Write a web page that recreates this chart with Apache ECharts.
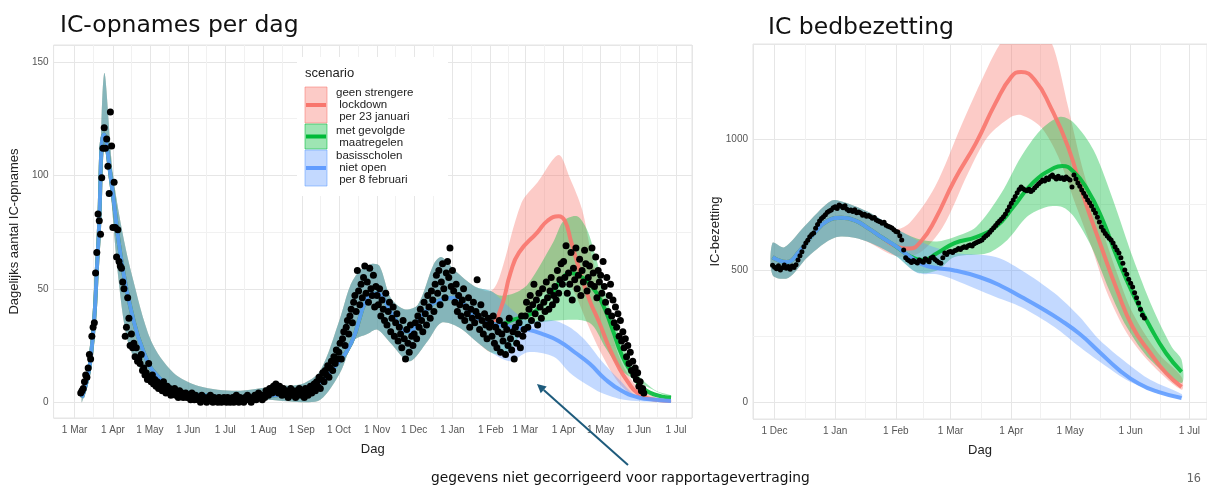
<!DOCTYPE html>
<html>
<head>
<meta charset="utf-8">
<script src="https://cdn.jsdelivr.net/npm/echarts@6/dist/echarts.min.js"></script>
<style>
  html, body { margin: 0; padding: 0; background: #fff; }
  #chart { width: 1207px; height: 488px; }
</style>
</head>
<body>
<div id="chart"></div>
<script>
// ---------- Daily IC admissions (dots), starting 2020-03-06 ----------
const opnamesStart = '2020-03-06';
const opnames2020Mar = [4,5,6,9,12,11,15,21,19,29,33,35,57,66,83,80,74,99,112,121,112,116,104,92,128,113];
const opnames2020Apr = [77,97,77,64,76,62,60,59,53,50,29,33,46,37,25,30,24,26,20,24,18,19,17,21,14,15,12,13,10,17];
const opnames2020May = [11,9,12,8,10,7,9,6,8,7,5,9,6,4,7,5,6,3,5,4,6,3,4,2,5,3,4,2,3,4,2];
const opnames2020Jun = [3,2,1,4,2,1,3,2,1,2,0,3,1,2,1,0,2,1,3,1,0,2,1,1,0,2,1,0,1,2];
const opnames2020Jul = [1,0,2,1,0,1,2,0,1,3,1,0,2,1,1,0,2,1,3,1,2,0,1,2,3,1,2,4,2,3,1];
const opnames2020Aug = [3,2,5,4,3,6,5,4,7,5,8,6,4,7,5,3,6,4,5,3,2,4,6,3,5,4,2,5,3,6,4];
const opnames2020Sep = [3,5,2,6,4,3,5,7,4,6,8,5,9,7,11,6,10,13,9,14,12,16,11,15,18,14,20,17,23,19];
const opnames2020Oct = [22,26,19,28,31,25,33,36,30,38,41,35,44,47,40,58,49,43,52,46,55,60,48,53,44,59,50,47,56,42,51];
const opnames2020Nov = [47,43,50,38,45,41,36,48,34,40,44,31,37,42,29,35,39,27,33,30,24,36,28,19,32,26,22,34,29,25];
const opnames2020Dec = [30,35,28,38,33,41,36,31,44,39,34,47,42,37,49,45,40,52,56,48,58,43,53,61,50,46,57,62,55,68,51];
const opnames2021Jan = [58,49,44,52,40,47,43,38,45,50,36,42,39,46,33,41,37,44,35,40,54,38,32,43,36,30,39,34,28,37,33];
const opnames2021Feb = [35,29,38,26,33,24,31,36,22,30,27,34,21,32,25,37,28,23,31,19,33,26,30,35,24,38,29,32];
const opnames2021Mar = [38,44,33,41,47,36,43,52,39,45,34,48,42,37,50,44,40,53,46,41,49,55,43,47,51,45,58,48,54,61,52];
const opnames2021Apr = [62,55,69,48,57,52,66,45,59,54,68,50,56,63,47,58,53,67,61,49,55,60,52,68,57,51,64,46,58,53];
const opnames2021May = [56,48,62,51,44,55,40,47,52,38,45,35,42,33,39,29,36,27,31,24,28,20,25,17,22,14,18,12,15,10,13];
const opnames2021Jun = [7,9,5,6,4];

// ---------- Model for admissions: shared fit up to Feb 2021 ----------
const opnHistMid = [['2020-03-07',2],['2020-03-14',19],['2020-03-20',68],['2020-03-25',118],['2020-03-31',96],['2020-04-08',62],['2020-04-16',40],['2020-04-26',22],['2020-05-08',11],['2020-05-25',5],['2020-06-15',3],['2020-07-15',2],['2020-08-10',3],['2020-09-01',5],['2020-09-16',9],['2020-09-27',15],['2020-10-11',26],['2020-10-24',46],['2020-11-01',48],['2020-11-12',40],['2020-11-26',31],['2020-12-10',40],['2020-12-22',45],['2021-01-03',46],['2021-01-18',38],['2021-02-01',35]];
const opnHistHigh = [['2020-03-07',4],['2020-03-14',22],['2020-03-20',74],['2020-03-25',145],['2020-04-01',101],['2020-04-08',77],['2020-04-16',57],['2020-05-02',27],['2020-05-20',13],['2020-06-10',7],['2020-07-10',5],['2020-08-10',7],['2020-09-01',8],['2020-09-16',14],['2020-10-02',37],['2020-10-10',51],['2020-10-18',58],['2020-10-28',61],['2020-11-03',60],['2020-11-12',46],['2020-11-23',41],['2020-12-04',43],['2020-12-17',61],['2020-12-23',64],['2021-01-03',58],['2021-01-19',51],['2021-02-01',49]];
const opnHistLow = [['2020-03-07',0],['2020-03-14',16],['2020-03-20',62],['2020-03-25',112],['2020-03-29',100],['2020-04-05',57],['2020-04-13',27],['2020-04-25',13],['2020-05-08',5],['2020-06-01',1],['2020-07-01',0],['2020-08-01',1],['2020-09-01',0],['2020-09-16',1],['2020-10-02',13],['2020-10-13',27],['2020-10-24',30],['2020-11-01',32],['2020-11-12',26],['2020-11-27',18],['2020-12-12',27],['2020-12-23',35],['2021-01-06',33],['2021-01-22',26],['2021-02-01',22]];

// Scenario: geen strengere lockdown per 23 januari
const opnRedMid = [['2021-02-09',41],['2021-02-17',57],['2021-02-24',66],['2021-03-11',75],['2021-03-19',80],['2021-03-28',82],['2021-04-02',80],['2021-04-07',71],['2021-04-14',58],['2021-04-22',45],['2021-04-30',35],['2021-05-08',24],['2021-05-16',15],['2021-05-23',9],['2021-05-31',4],['2021-06-15',1],['2021-06-27',0.5]];
const opnRedHigh = [['2021-02-08',55],['2021-02-26',88],['2021-03-11',97],['2021-03-28',109],['2021-04-06',99],['2021-04-16',85],['2021-04-24',64],['2021-05-05',42],['2021-05-16',20],['2021-05-30',7],['2021-06-15',2],['2021-06-27',1]];
const opnRedLow = [['2021-02-08',24],['2021-02-20',32],['2021-03-05',42],['2021-03-20',50],['2021-04-01',55],['2021-04-10',48],['2021-04-20',35],['2021-05-01',22],['2021-05-15',9],['2021-05-30',2],['2021-06-27',0]];
// Scenario: met gevolgde maatregelen
const opnGreenMid = [['2021-02-08',34],['2021-02-17',36],['2021-03-06',39],['2021-03-16',44],['2021-03-24',49],['2021-03-30',54],['2021-04-07',57],['2021-04-16',55],['2021-04-24',51],['2021-05-02',44],['2021-05-10',33],['2021-05-18',21],['2021-05-26',13],['2021-06-07',5],['2021-06-27',2]];
const opnGreenHigh = [['2021-02-08',47],['2021-02-20',48],['2021-03-03',52],['2021-03-24',71],['2021-04-01',80],['2021-04-12',82],['2021-04-20',76],['2021-04-27',64],['2021-05-08',42],['2021-05-18',27],['2021-05-30',13],['2021-06-15',5],['2021-06-27',3]];
const opnGreenLow = [['2021-02-10',21],['2021-02-20',25],['2021-02-28',33],['2021-03-27',36],['2021-04-22',35],['2021-05-05',24],['2021-05-18',14],['2021-06-07',7],['2021-06-27',2]];
// Scenario: basisscholen niet open per 8 februari
const opnBlueMid = [['2021-02-08',34],['2021-02-20',33],['2021-03-03',32],['2021-03-15',30],['2021-03-28',27],['2021-04-10',22],['2021-04-22',17],['2021-05-05',10],['2021-05-18',5],['2021-06-01',2],['2021-06-15',1],['2021-06-27',0.5]];
const opnBlueHigh = [['2021-02-08',46],['2021-02-20',40],['2021-03-03',36],['2021-03-24',36],['2021-04-06',33],['2021-04-19',27],['2021-05-02',18],['2021-05-16',10],['2021-06-01',2],['2021-06-27',0.5]];
const opnBlueLow = [['2021-02-17',18],['2021-03-03',22],['2021-03-24',20],['2021-04-06',13],['2021-04-19',8],['2021-05-02',4],['2021-05-20',1],['2021-06-15',0],['2021-06-27',0]];

// ---------- Daily IC bed occupancy (dots), starting 2020-11-30 ----------
const bezettingStart = '2020-11-30';
const bezetting2020Nov = [520];
const bezetting2020Dec = [512,506,518,502,510,521,508,515,504,517,511,522,540,556,571,590,604,615,628,637,642,660,675,688,697,704,712,721,726,730,738];
const bezetting2021Jan = [742,735,749,744,738,746,733,727,730,724,731,719,722,718,710,714,706,709,704,698,701,692,688,685,679,683,672,668,665,661,655];
const bezetting2021Feb = [648,646,632,616,578,548,541,536,530,538,533,528,540,535,531,544,539,533,547,551,542,536,530,527,548,566,561,570];
const bezetting2021Mar = [572,568,575,578,583,580,586,590,587,594,597,593,601,605,609,612,616,624,631,637,645,654,662,671,680,688,696,704,715,728,742];
const bezetting2021Apr = [755,768,781,795,808,817,811,806,803,809,800,806,814,822,830,836,844,840,851,846,857,863,854,848,858,850,852,846,855,849];
const bezetting2021May = [844,817,863,848,832,820,806,793,781,768,757,745,731,718,702,684,665,652,640,631,622,616,604,590,578,566,548,527,502,485,466];
const bezetting2021Jun = [451,437,415,396,376,352,330,319];

// ---------- Model for occupancy ----------
const bedHistMid = [['2020-11-30',550],['2020-12-07',532],['2020-12-14',575],['2020-12-21',640],['2020-12-28',688],['2021-01-04',700],['2021-01-11',690],['2021-01-18',660],['2021-01-25',625],['2021-02-01',592]];
const bedHistHigh = [['2020-11-30',605],['2020-12-06',588],['2020-12-16',665],['2020-12-30',765],['2021-01-06',758],['2021-01-19',718],['2021-02-01',658]];
const bedHistLow = [['2020-11-30',483],['2020-12-08',471],['2020-12-18',551],['2021-01-01',625],['2021-01-15',616],['2021-02-01',555]];

const bedRedMid = [['2021-02-08',583],['2021-02-14',612],['2021-02-21',692],['2021-03-03',844],['2021-03-14',985],['2021-03-24',1137],['2021-04-01',1236],['2021-04-06',1255],['2021-04-13',1224],['2021-04-21',1122],['2021-04-30',970],['2021-05-08',779],['2021-05-17',589],['2021-05-25',426],['2021-06-02',285],['2021-06-11',186],['2021-06-19',110],['2021-06-27',57]];
const bedRedHigh = [['2021-02-08',680],['2021-02-21',818],['2021-03-07',1061],['2021-03-20',1274],['2021-03-27',1370],['2021-04-07',1470],['2021-04-17',1420],['2021-04-23',1338],['2021-04-30',1122],['2021-05-08',871],['2021-05-17',665],['2021-05-25',490],['2021-06-02',338],['2021-06-15',186],['2021-06-27',95]];
const bedRedLow = [['2021-02-13',566],['2021-02-25',665],['2021-03-10',871],['2021-03-20',1008],['2021-04-01',1084],['2021-04-06',1091],['2021-04-16',1046],['2021-04-25',932],['2021-05-03',768],['2021-05-12',589],['2021-05-20',414],['2021-05-30',262],['2021-06-11',148],['2021-06-27',46]];

const bedGreenMid = [['2021-02-08',555],['2021-02-15',540],['2021-02-22',565],['2021-03-03',604],['2021-03-14',627],['2021-03-24',665],['2021-04-02',741],['2021-04-12',833],['2021-04-23',890],['2021-04-27',897],['2021-05-03',874],['2021-05-10',806],['2021-05-17',704],['2021-05-25',551],['2021-06-02',414],['2021-06-11',285],['2021-06-19',186],['2021-06-27',114]];
const bedGreenHigh = [['2021-02-12',620],['2021-02-22',610],['2021-03-03',627],['2021-03-14',665],['2021-03-27',795],['2021-04-06',932],['2021-04-16',1034],['2021-04-26',1084],['2021-05-03',1061],['2021-05-13',958],['2021-05-23',768],['2021-06-02',551],['2021-06-12',361],['2021-06-22',209],['2021-06-27',160]];
const bedGreenLow = [['2021-02-12',492],['2021-02-22',500],['2021-03-03',551],['2021-03-20',566],['2021-03-30',616],['2021-04-09',704],['2021-04-19',741],['2021-04-27',741],['2021-05-03',704],['2021-05-12',589],['2021-05-21',426],['2021-05-30',285],['2021-06-11',160],['2021-06-27',72]];

const bedBlueMid = [['2021-02-08',553],['2021-02-14',525],['2021-02-21',510],['2021-03-03',500],['2021-03-16',474],['2021-03-27',440],['2021-04-06',400],['2021-04-16',358],['2021-04-26',312],['2021-05-06',258],['2021-05-16',190],['2021-05-26',122],['2021-06-05',70],['2021-06-15',38],['2021-06-27',15]];
const bedBlueHigh = [['2021-02-12',615],['2021-02-22',585],['2021-03-03',566],['2021-03-24',551],['2021-04-06',502],['2021-04-23',414],['2021-05-06',323],['2021-05-16',236],['2021-05-30',148],['2021-06-11',84],['2021-06-27',30]];
const bedBlueLow = [['2021-02-12',490],['2021-02-22',485],['2021-03-03',464],['2021-03-24',399],['2021-04-06',361],['2021-04-23',285],['2021-05-06',209],['2021-05-20',133],['2021-06-02',72],['2021-06-27',15]];

// ---------- Text ----------
const MONTHS = ['Jan','Feb','Mar','Apr','May','Jun','Jul','Aug','Sep','Oct','Nov','Dec'];
const scenarioColors = { red: '#F8766D', green: '#00BA38', blue: '#619CFF' };
const legendLabels = [
  ['geen strengere', ' lockdown', ' per 23 januari'],
  ['met gevolgde', ' maatregelen'],
  ['basisscholen', ' niet open', ' per 8 februari']
];
const leftYTicks = [0, 50, 100, 150];
const rightYTicks = [0, 500, 1000];

// ---------- Helpers ----------
const DAY = 86400000;
const toTime = s => new Date(s + 'T00:00:00').getTime();
const pts = arr => arr.map(([d, v]) => [toTime(d), v]);
function daily(start, values) {
  const t0 = toTime(start);
  return values.map((v, i) => [t0 + i * DAY, v]);
}
function monthStarts(from, to) {
  const out = [];
  const d = new Date(from + 'T00:00:00');
  const end = toTime(to);
  while (d.getTime() <= end) { out.push(d.getTime()); d.setMonth(d.getMonth() + 1); }
  return out;
}
function midpoints(arr) {
  const out = [];
  for (let i = 0; i + 1 < arr.length; i++) out.push((arr[i] + arr[i + 1]) / 2);
  return out;
}
function rgba(hex, a) {
  const n = parseInt(hex.slice(1), 16);
  return `rgba(${(n >> 16) & 255},${(n >> 8) & 255},${n & 255},${a})`;
}

const BAND_ALPHA = 0.38;

function bandSeries(idx, upper, lower, color) {
  const up = pts(upper), lo = pts(lower);
  return {
    type: 'custom', xAxisIndex: idx, yAxisIndex: idx, silent: true, z: 2,
    data: [up[0]],
    renderItem(params, api) {
      const points = up.map(p => api.coord(p)).concat(lo.slice().reverse().map(p => api.coord(p)));
      const cs = params.coordSys;
      return {
        type: 'polygon',
        shape: { points, smooth: 0.3 },
        style: { fill: rgba(color, BAND_ALPHA), stroke: null },
        clipPath: { type: 'rect', shape: { x: cs.x, y: cs.y, width: cs.width, height: cs.height } }
      };
    }
  };
}
function lineSeries(idx, data, color) {
  return {
    type: 'line', xAxisIndex: idx, yAxisIndex: idx, silent: true, z: 2,
    data: pts(data), smooth: 0.5, showSymbol: false, clip: true,
    lineStyle: { color, width: 4, opacity: 0.9 }
  };
}
function scatterSeries(idx, data, size) {
  return {
    type: 'scatter', xAxisIndex: idx, yAxisIndex: idx, silent: true, z: 3,
    data, symbolSize: size, itemStyle: { color: '#000', opacity: 1 }
  };
}
function minorGrid(idx, xs, ys) {
  return {
    type: 'line', xAxisIndex: idx, yAxisIndex: idx, silent: true, z: 1, data: [],
    markLine: {
      silent: true, symbol: ['none', 'none'], animation: false, z: 1,
      label: { show: false },
      lineStyle: { color: '#f1f1f1', width: 1, type: 'solid' },
      emphasis: { disabled: true },
      data: xs.map(x => ({ xAxis: x })).concat(ys.map(y => ({ yAxis: y })))
    }
  };
}

const labelFont = { color: '#555', fontSize: 10, fontFamily: 'Liberation Sans' };
const nameFont = { color: '#222', fontSize: 13, fontFamily: 'Liberation Sans' };

function timeAxis(idx, min, max, splitNumber) {
  return {
    type: 'time', gridIndex: idx, min: toTime(min), max: toTime(max),
    splitNumber, minInterval: 28 * DAY, maxInterval: 31 * DAY,
    name: 'Dag', nameLocation: 'middle', nameGap: 25, nameTextStyle: nameFont,
    axisLine: { show: false }, axisTick: { show: false },
    axisLabel: Object.assign({
      margin: 7, hideOverlap: false,
      formatter: v => { const d = new Date(v); return d.getDate() + ' ' + MONTHS[d.getMonth()]; }
    }, labelFont),
    splitLine: { show: true, lineStyle: { color: '#e6e6e6', width: 1 } }
  };
}
function valueAxis(idx, min, max, splitNumber, name, nameGap, ticks) {
  return {
    type: 'value', gridIndex: idx, min, max, splitNumber,
    name, nameLocation: 'middle', nameGap, nameRotate: 90, nameTextStyle: nameFont,
    axisLine: { show: false }, axisTick: { show: false },
    axisLabel: Object.assign({
      margin: 5,
      formatter: v => (ticks.indexOf(v) >= 0 ? String(v) : '')
    }, labelFont),
    splitLine: { show: true, lineStyle: { color: '#e6e6e6', width: 1 } }
  };
}

// Minor grid positions (midway between major ticks)
const leftMonths = monthStarts('2020-03-01', '2021-07-01');
const rightMonths = monthStarts('2020-12-01', '2021-07-01');
const leftMinorX = midpoints(leftMonths);
const rightMinorX = midpoints(rightMonths);
const leftMinorY = midpoints(leftYTicks);
const rightMinorY = midpoints(rightYTicks);

const opnamesDots = daily(opnamesStart, [].concat(
  opnames2020Mar, opnames2020Apr, opnames2020May, opnames2020Jun, opnames2020Jul, opnames2020Aug,
  opnames2020Sep, opnames2020Oct, opnames2020Nov, opnames2020Dec, opnames2021Jan, opnames2021Feb,
  opnames2021Mar, opnames2021Apr, opnames2021May, opnames2021Jun));
const bezettingDots = daily(bezettingStart, [].concat(
  bezetting2020Nov, bezetting2020Dec, bezetting2021Jan, bezetting2021Feb,
  bezetting2021Mar, bezetting2021Apr, bezetting2021May, bezetting2021Jun));

const C = scenarioColors;
const series = [
  minorGrid(0, leftMinorX, leftMinorY),
  bandSeries(0, opnHistHigh.concat(opnRedHigh), opnHistLow.concat(opnRedLow), C.red),
  lineSeries(0, opnHistMid.concat(opnRedMid), C.red),
  bandSeries(0, opnHistHigh.concat(opnGreenHigh), opnHistLow.concat(opnGreenLow), C.green),
  lineSeries(0, opnHistMid.concat(opnGreenMid), C.green),
  bandSeries(0, opnHistHigh.concat(opnBlueHigh), opnHistLow.concat(opnBlueLow), C.blue),
  lineSeries(0, opnHistMid.concat(opnBlueMid), C.blue),
  scatterSeries(0, opnamesDots, 7),

  minorGrid(1, rightMinorX, rightMinorY),
  bandSeries(1, bedHistHigh.concat(bedRedHigh), bedHistLow.concat(bedRedLow), C.red),
  lineSeries(1, bedHistMid.concat(bedRedMid), C.red),
  bandSeries(1, bedHistHigh.concat(bedGreenHigh), bedHistLow.concat(bedGreenLow), C.green),
  lineSeries(1, bedHistMid.concat(bedGreenMid), C.green),
  bandSeries(1, bedHistHigh.concat(bedBlueHigh), bedHistLow.concat(bedBlueLow), C.blue),
  lineSeries(1, bedHistMid.concat(bedBlueMid), C.blue),
  scatterSeries(1, bezettingDots, 5)
];

// ---------- Legend drawn as graphic elements ----------
const legendGraphics = [];
const LX = 297, LY = 57;
legendGraphics.push({ type: 'rect', shape: { x: LX, y: LY, width: 151, height: 139 }, style: { fill: '#fff' }, z: 50 });
legendGraphics.push({ type: 'text', z: 51, style: { x: 305, y: 73, text: 'scenario', fill: '#222', font: '13px "Liberation Sans"', verticalAlign: 'middle' } });
const keyBoxes = [
  { color: C.red, y: 87, h: 36 },
  { color: C.green, y: 124, h: 25 },
  { color: C.blue, y: 150, h: 36 }
];
keyBoxes.forEach((k, i) => {
  legendGraphics.push({ type: 'rect', z: 51, shape: { x: 305, y: k.y, width: 22, height: k.h },
    style: { fill: rgba(k.color, BAND_ALPHA), stroke: rgba(k.color, 0.55), lineWidth: 1 } });
  legendGraphics.push({ type: 'line', z: 52, shape: { x1: 306, y1: k.y + k.h / 2, x2: 326, y2: k.y + k.h / 2 },
    style: { stroke: k.color, lineWidth: 4 } });
  const lines = legendLabels[i];
  const lh = 12.2;
  const y0 = k.y + k.h / 2 - (lines.length - 1) * lh / 2;
  lines.forEach((t, j) => {
    legendGraphics.push({ type: 'text', z: 52, style: { x: 336, y: y0 + j * lh, text: t, fill: '#222',
      font: '11.5px "Liberation Sans"', verticalAlign: 'middle' } });
  });
});

// Annotation arrow
const arrowTail = [628, 465], arrowHead = [537, 384];
const ang = Math.atan2(arrowHead[1] - arrowTail[1], arrowHead[0] - arrowTail[0]);
const hl = 9, hw = 4.5;
const bx = arrowHead[0] - hl * Math.cos(ang), by = arrowHead[1] - hl * Math.sin(ang);
const arrowColor = '#1e5b7c';

const graphics = [
  { type: 'text', z: 60, style: { x: 60, y: 26, text: 'IC-opnames per dag', fill: '#111', font: '23.5px "DejaVu Sans"', verticalAlign: 'middle' } },
  { type: 'text', z: 60, style: { x: 768, y: 28, text: 'IC bedbezetting', fill: '#111', font: '23.5px "DejaVu Sans"', verticalAlign: 'middle' } },
  { type: 'text', z: 60, style: { x: 431, y: 478, text: 'gegevens niet gecorrigeerd voor rapportagevertraging', fill: '#111', font: '13.8px "DejaVu Sans"', verticalAlign: 'middle' } },
  { type: 'text', z: 60, style: { x: 1201, y: 479, text: '16', fill: '#666', font: '12px "DejaVu Sans Mono"', align: 'right', verticalAlign: 'middle' } },
  { type: 'line', z: 60, shape: { x1: arrowTail[0], y1: arrowTail[1], x2: bx, y2: by }, style: { stroke: arrowColor, lineWidth: 2 } },
  { type: 'polygon', z: 60, shape: { points: [
      arrowHead,
      [bx + hw * Math.sin(ang), by - hw * Math.cos(ang)],
      [bx - hw * Math.sin(ang), by + hw * Math.cos(ang)]
    ] }, style: { fill: arrowColor } }
].concat(legendGraphics);

const option = {
  animation: false,
  backgroundColor: '#fff',
  grid: [
    { left: 52, top: 45, width: 640, height: 373, show: true, borderColor: '#e4e4e4', borderWidth: 1, backgroundColor: 'transparent' },
    { left: 753, top: 44, width: 460, height: 375, show: true, borderColor: '#e4e4e4', borderWidth: 1, backgroundColor: 'transparent' }
  ],
  xAxis: [
    timeAxis(0, '2020-02-13', '2021-07-14', 17),
    timeAxis(1, '2020-11-20', '2021-07-10', 8)
  ],
  yAxis: [
    valueAxis(0, -7, 157.5, 3, 'Dagelijks aantal IC-opnames', 26, leftYTicks),
    valueAxis(1, -65, 1361, 3, 'IC-bezetting', 28, rightYTicks)
  ],
  graphic: graphics,
  series
};

const chart = echarts.init(document.getElementById('chart'), null, { width: 1207, height: 488 });
chart.setOption(option);
</script>
</body>
</html>
